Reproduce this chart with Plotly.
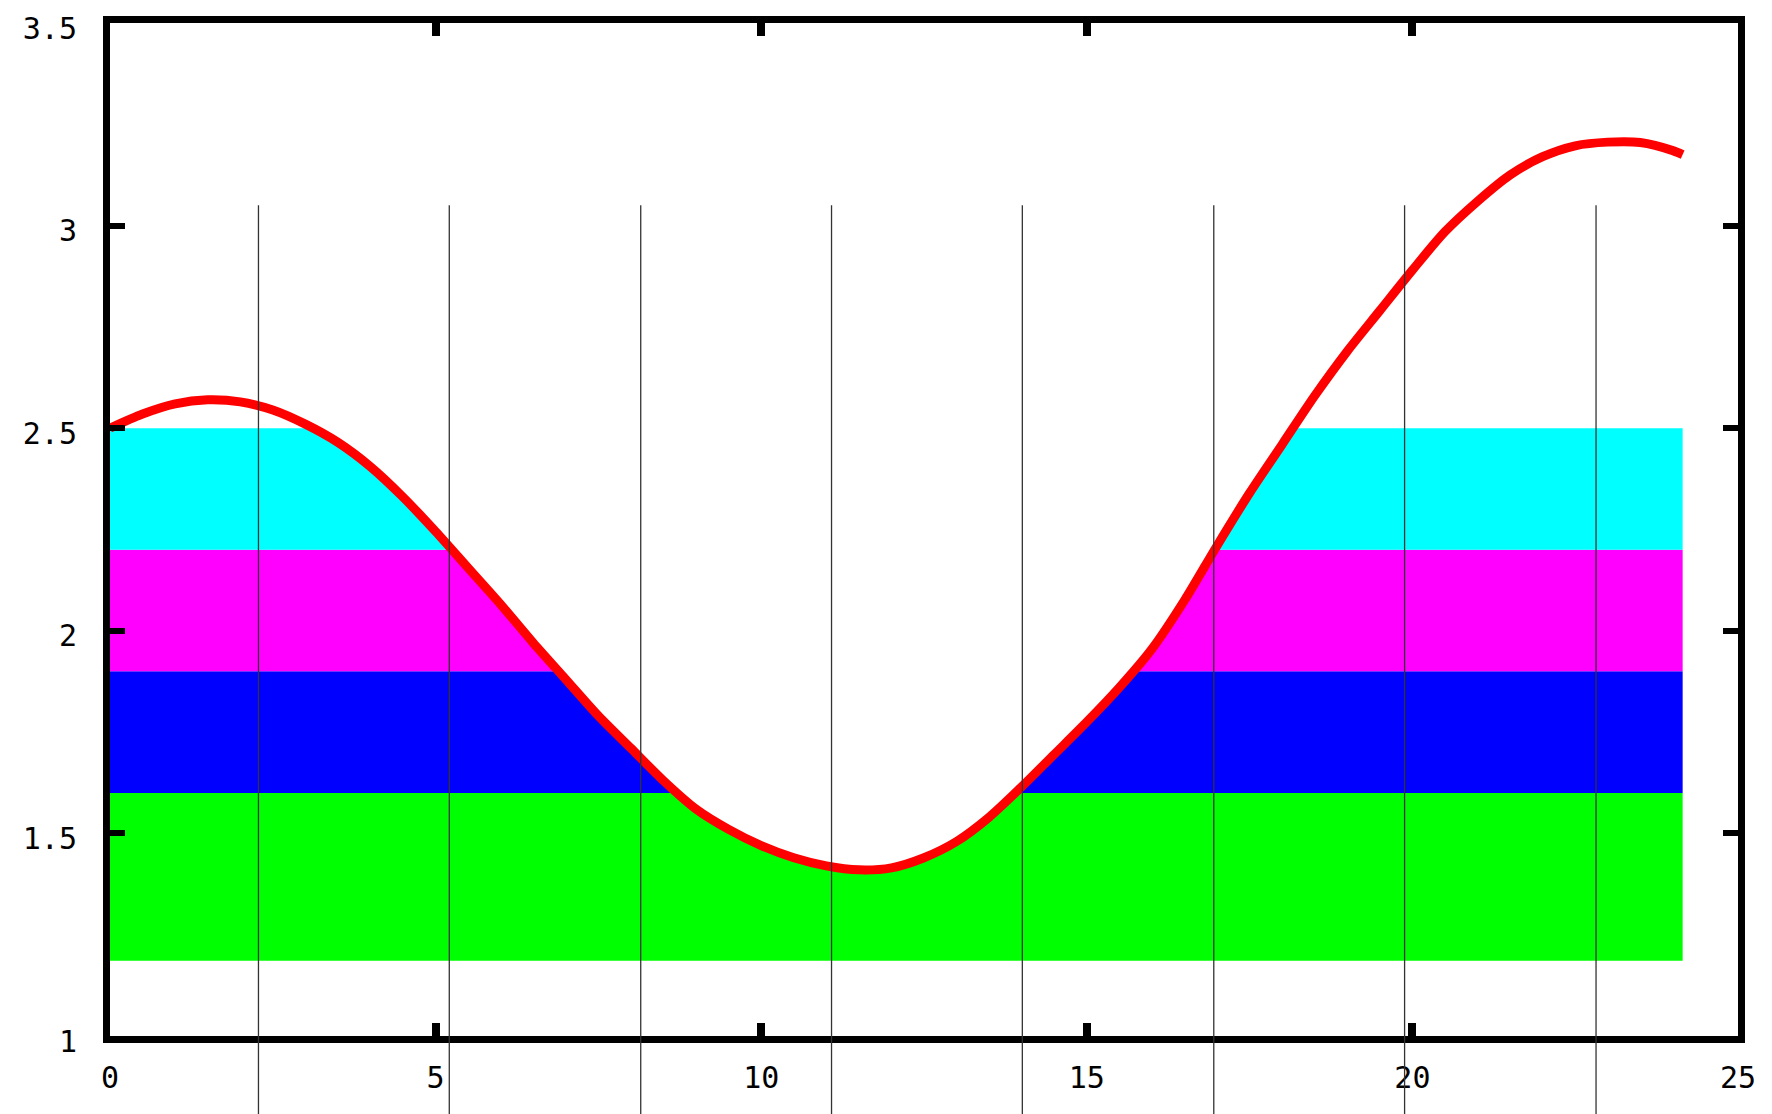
import plotly.graph_objects as go

# Curve data
curve_x = [0, 0.5, 1.0, 1.5, 2.0, 2.5, 3.0, 3.5, 4.0, 4.5, 5.0, 5.5, 6.0, 6.5, 7.0, 7.5,
           8.0, 8.5, 9.0, 9.5, 10.0, 10.5, 11.0, 11.5, 12.0, 12.5, 13.0, 13.5, 14.0, 14.5,
           15.0, 15.5, 16.0, 16.5, 17.0, 17.5, 18.0, 18.5, 19.0, 19.5, 20.0, 20.5, 21.0,
           21.5, 22.0, 22.5, 23.0, 23.5, 24.0, 24.15]
curve_y = [2.50, 2.535, 2.56, 2.57, 2.565, 2.545, 2.51, 2.465, 2.405, 2.33, 2.245, 2.155, 2.065,
           1.97, 1.88, 1.79, 1.71, 1.63, 1.56, 1.51, 1.47, 1.44, 1.42, 1.41, 1.415, 1.44,
           1.48, 1.54, 1.615, 1.695, 1.775, 1.86, 1.955, 2.075, 2.21, 2.34, 2.46, 2.58, 2.69,
           2.79, 2.89, 2.985, 3.06, 3.125, 3.17, 3.197, 3.206, 3.205, 3.185, 3.175]

# Colour bands (lower bound, upper bound, colour)
band_lo = [1.186, 1.6, 1.9, 2.2]
band_hi = [1.6, 1.9, 2.2, 2.5]
band_colors = ["#00FF00", "#0000FF", "#FF00FF", "#00FFFF"]

# Vertical marker lines
marker_x = [2.28, 5.21, 8.15, 11.08, 14.01, 16.95, 19.88, 22.82]
marker_top = 3.05

x_ticks = [0, 5, 10, 15, 20, 25]
y_ticks = [1, 1.5, 2, 2.5, 3, 3.5]
x_range = [0, 25]
y_range = [1, 3.5]

fig = go.Figure()

shapes = []
for lo, hi, c in zip(band_lo, band_hi, band_colors):
    shapes.append(dict(type="rect", xref="x", yref="y", x0=min(curve_x), x1=max(curve_x),
                       y0=lo, y1=hi, fillcolor=c, line=dict(width=0), layer="below"))

# white mask above the curve
fig.add_trace(go.Scatter(x=curve_x, y=[y_range[1]] * len(curve_x), mode="lines",
                         line=dict(width=0, color="white"), hoverinfo="skip", showlegend=False))
fig.add_trace(go.Scatter(x=curve_x, y=curve_y, mode="lines", fill="tonexty",
                         fillcolor="white", line=dict(width=0, color="white", shape="spline",
                                                      smoothing=0.8),
                         hoverinfo="skip", showlegend=False))
# red curve
fig.add_trace(go.Scatter(x=curve_x, y=curve_y, mode="lines",
                         line=dict(color="#FF0000", width=9, shape="spline", smoothing=0.8),
                         showlegend=False))

top_paper = (marker_top - y_range[0]) / (y_range[1] - y_range[0])
for mx in marker_x:
    shapes.append(dict(type="line", xref="x", yref="paper", x0=mx, x1=mx,
                       y0=-0.2, y1=top_paper, line=dict(color="#333333", width=1.3),
                       layer="above"))

font = dict(family="DejaVu Sans Mono", size=30, color="black")
fig.update_layout(
    width=1772, height=1114,
    margin=dict(l=102, r=42, t=15, b=86, autoexpand=False),
    paper_bgcolor="white", plot_bgcolor="white",
    shapes=shapes,
    showlegend=False,
    xaxis=dict(range=x_range, tickvals=x_ticks, ticktext=[str(v) for v in x_ticks],
               showgrid=False, zeroline=False, showline=True, linewidth=7,
               linecolor="black", mirror="ticks", ticks="inside", ticklen=13,
               tickwidth=8, tickcolor="black", tickfont=font, automargin=False,
               ticklabelstandoff=9, ticklabeloverflow="allow"),
    yaxis=dict(range=y_range, tickvals=y_ticks, ticktext=[f"{v:g}" for v in y_ticks],
               showgrid=False, zeroline=False, showline=True, linewidth=7,
               linecolor="black", mirror="ticks", ticks="inside", ticklen=15,
               tickwidth=6, tickcolor="black", tickfont=font, automargin=False,
               ticklabelstandoff=20, ticklabelshift=5, ticklabeloverflow="allow"),
)

fig.write_html("out.html")
